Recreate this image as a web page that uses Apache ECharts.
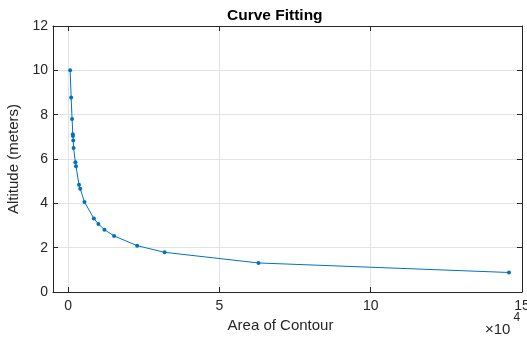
<!DOCTYPE html>
<html><head><meta charset="utf-8">
<script src="https://cdn.jsdelivr.net/npm/echarts@6/dist/echarts.min.js"></script>
<style>html,body{margin:0;padding:0;background:#fff}#c{width:527px;height:341px}</style>
</head><body><div id="c"></div>
<script>
var areas = [660, 1000, 1300, 1550, 1600, 1700, 1800, 2400, 2600, 3600, 4000, 5400, 8500, 10000, 12000, 15200, 22800, 31900, 62900, 145700];
var altitudes = [10.0, 8.77, 7.8, 7.12, 7.04, 6.83, 6.5, 5.85, 5.67, 4.84, 4.66, 4.06, 3.32, 3.07, 2.81, 2.53, 2.09, 1.79, 1.31, 0.88];
var xTicks = [0, 50000, 100000, 150000];
var yTicks = [0, 2, 4, 6, 8, 10, 12];

var pts = areas.map(function(a, i){ return [a, altitudes[i]]; });
var axisCol = '#262626', gridCol = '#e3e3e3', font = 'Liberation Sans, Arial, sans-serif';
var chart = echarts.init(document.getElementById('c'), null, {renderer:'canvas'});
chart.setOption({
  animation:false,
  title:{text:'Curve Fitting', left:222, top:3,
    textStyle:{fontFamily:font, fontSize:15.5, fontWeight:'bold', color:'#000'}},
  grid:{left:53, right:5, top:26, bottom:49, containLabel:false, outerBoundsMode:'none'},
  xAxis:[{
    type:'value', min:-5000, max:150000,
    name:'Area of Contour', nameLocation:'middle', nameGap:26,
    nameTextStyle:{fontFamily:font, fontSize:15, color:axisCol, padding:[0,14,0,0]},
    axisLine:{show:true, onZero:false, lineStyle:{color:axisCol, width:1}},
    axisTick:{show:true, inside:true, length:5, customValues:xTicks, lineStyle:{color:axisCol}},
    axisLabel:{customValues:xTicks, alignMinLabel:'center', alignMaxLabel:'center', hideOverlap:false,
      formatter:function(v){return String(v/10000);}, fontFamily:font, fontSize:14, color:axisCol, margin:7},
    splitLine:{show:true, lineStyle:{color:gridCol, width:1}}
  },{
    type:'value', position:'top', min:-5000, max:150000,
    axisLine:{show:true, onZero:false, lineStyle:{color:axisCol, width:1}},
    axisTick:{show:true, inside:true, length:5, customValues:xTicks, lineStyle:{color:axisCol}},
    axisLabel:{show:false}, splitLine:{show:false}
  }],
  yAxis:[{
    type:'value', min:0, max:12, interval:2,
    name:'Altitude (meters)', nameLocation:'middle', nameGap:27,
    nameTextStyle:{fontFamily:font, fontSize:15, color:axisCol},
    axisLine:{show:true, onZero:false, lineStyle:{color:axisCol, width:1}},
    axisTick:{show:true, inside:true, length:5, lineStyle:{color:axisCol}},
    axisLabel:{fontFamily:font, fontSize:14, color:axisCol, margin:5},
    splitLine:{show:true, lineStyle:{color:gridCol, width:1}}
  },{
    type:'value', position:'right', min:0, max:12, interval:2,
    axisLine:{show:true, onZero:false, lineStyle:{color:axisCol, width:1}},
    axisTick:{show:true, inside:true, length:5, lineStyle:{color:axisCol}},
    axisLabel:{show:false}, splitLine:{show:false}
  }],
  graphic:[{
    type:'text', left:485, top:312,
    style:{text:'{a|×10}{b|4}', rich:{a:{fontFamily:font, fontSize:15, fill:axisCol, padding:[10,0,0,0]}, b:{fontFamily:font, fontSize:12, fill:axisCol, verticalAlign:'top', padding:[0,0,10,3]}}}
  }],
  series:[{
    type:'line', data:pts, xAxisIndex:0, yAxisIndex:0,
    symbol:'circle', symbolSize:4, showSymbol:true,
    lineStyle:{color:'#0072BD', width:1},
    itemStyle:{color:'#0072BD'}
  }]
});
</script></body></html>
